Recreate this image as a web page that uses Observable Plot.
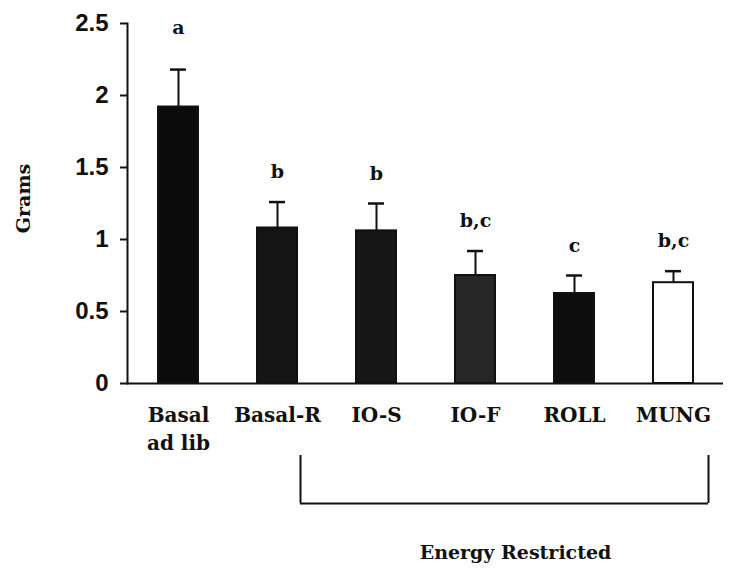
<!DOCTYPE html>
<html>
<head>
<meta charset="utf-8">
<script src="https://cdn.jsdelivr.net/npm/d3@7"></script>
<script src="https://cdn.jsdelivr.net/npm/@observablehq/plot@0.6"></script>
<style>
  html, body { margin: 0; padding: 0; background: #ffffff; }
</style>
</head>
<body>
<div id="chart"></div>
<script>
// ---- data ----
const groups = ["Basal ad lib", "Basal-R", "IO-S", "IO-F", "ROLL", "MUNG"];
const tickLabels = ["Basal\nad lib", "Basal-R", "IO-S", "IO-F", "ROLL", "MUNG"];
const means = [1.92, 1.08, 1.06, 0.75, 0.625, 0.70];
const sems = [0.26, 0.18, 0.19, 0.17, 0.125, 0.08];
const letters = ["a", "b", "b", "b,c", "c", "b,c"];
const yTicks = [0, 0.5, 1, 1.5, 2, 2.5];
const barColors = ["#0b0b0b", "#141414", "#161616", "#262626", "#0d0d0d", "#ffffff"];
const bracketGroups = [{from: "Basal-R", to: "MUNG"}];
const bracketLabel = ["Energy Restricted"];
const yLabel = ["Grams"];

const data = groups.map((g, i) => ({
  group: g, mean: means[i], err: means[i] + sems[i], letter: letters[i]
}));
const labelOf = new Map(groups.map((g, i) => [g, tickLabels[i]]));

const serif = "DejaVu Serif";
const sans = "Liberation Sans";

const chart = Plot.plot({
  width: 729,
  height: 570,
  marginLeft: 127,
  marginRight: 6,
  marginTop: 23,
  marginBottom: 187,
  style: {background: "#ffffff", color: "#111"},
  x: {domain: groups, paddingInner: 0.6, paddingOuter: 0.3, axis: null},
  y: {domain: [0, 2.5], axis: null},
  color: {domain: groups, range: barColors},
  marks: [
    Plot.barY(data, {x: "group", y: "mean", fill: "group", stroke: "#111", strokeWidth: 2}),
    Plot.ruleX(data, {x: "group", y1: "mean", y2: "err", stroke: "#111", strokeWidth: 2}),
    Plot.tickY(data, {x: "group", y: "err", stroke: "#111", strokeWidth: 2.5, insetLeft: 12, insetRight: 12}),
    // significance letters: 30px above the error bar, or pinned to the top of the frame
    Plot.text(data.filter(d => d.err < 2), {
      x: "group", y: "err", text: "letter", dy: -30,
      fontFamily: serif, fontWeight: "bold", fontSize: 19, fill: "#111"
    }),
    Plot.text(data.filter(d => d.err >= 2), {
      x: "group", frameAnchor: "top", text: "letter", dy: -3,
      fontFamily: serif, fontWeight: "bold", fontSize: 19, fill: "#111"
    }),
    Plot.ruleY([0], {stroke: "#111", strokeWidth: 2}),
    Plot.frame({anchor: "left", stroke: "#111", strokeWidth: 2}),
    Plot.axisY({
      ticks: yTicks, tickSize: 7, tickPadding: 12, tickFormat: d => String(d),
      fontSize: 24, fontFamily: sans, fontWeight: "bold", strokeWidth: 2, label: null
    }),
    Plot.axisX({
      tickSize: 0, tickPadding: 19, tickFormat: d => labelOf.get(d),
      fontSize: 20, fontFamily: serif, fontWeight: "bold", lineHeight: 1.4, label: null
    }),
    Plot.text(yLabel, {
      frameAnchor: "left", dx: -104, dy: -5, rotate: -90, textAnchor: "middle",
      fontFamily: serif, fontWeight: "bold", fontSize: 19, fill: "#111"
    }),
    // bracket for energy-restricted groups
    Plot.ruleX(bracketGroups, {x: "from", y1: -0.5, y2: -0.833, dx: 23, stroke: "#111", strokeWidth: 2}),
    Plot.ruleX(bracketGroups, {x: "to", y1: -0.5, y2: -0.833, dx: 35, stroke: "#111", strokeWidth: 2}),
    Plot.ruleY(bracketGroups, {x1: "from", x2: "to", y: () => -0.833, insetLeft: 43, insetRight: -15, stroke: "#111", strokeWidth: 2}),
    Plot.text(bracketLabel, {
      x: () => "IO-F", y: -1.174, dx: 40, text: d => d,
      fontFamily: serif, fontWeight: "bold", fontSize: 19, fill: "#111"
    })
  ]
});
document.getElementById("chart").append(chart);
</script>
</body>
</html>
